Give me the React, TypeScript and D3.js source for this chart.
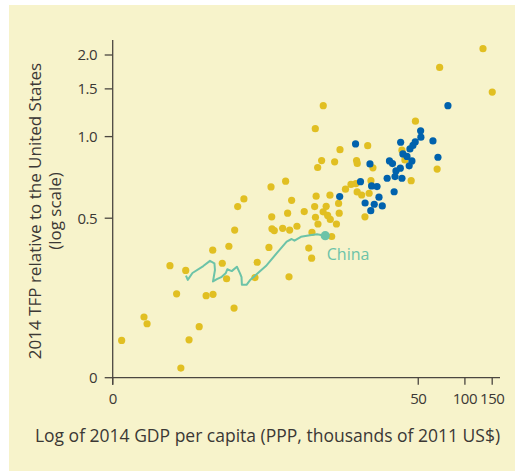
import React from "react";
import * as d3 from "d3";

// GDP per capita (thousands of 2011 US$, PPP) and TFP relative to the US
const yellowGdp = [
  0.61, 0.85, 0.89, 1.47, 1.66, 1.93, 1.38, 1.25, 1.58, 2.14, 2.37, 3.24, 2.72, 2.9, 2.36, 3.0,
  3.27, 3.42, 3.75, 4.42, 4.57, 5.44, 5.61, 6.97, 7.62, 7.18, 5.67, 5.69, 5.89, 6.67, 7.4, 8.25,
  9.19, 10.73, 10.97, 10.86, 11.27, 10.31, 9.83, 10.26, 7.33, 11.22, 11.9, 15.63, 14.44, 20.0, 20.2,
  13.47, 12.73, 12.17, 13.01, 13.53, 15.45, 14.83, 15.31, 16.96, 18.4, 19.81, 20.17, 21.57, 24.1,
  24.76, 13.82, 12.19, 10.83, 23.6, 25.5, 39.25, 41.0, 66.2, 45.0, 22.65, 47.96, 68.7, 130.8, 150.1,
];
const yellowTfp = [
  0.177, 0.216, 0.204, 0.14, 0.178, 0.199, 0.263, 0.334, 0.321, 0.259, 0.262, 0.233, 0.341, 0.299,
  0.381, 0.394, 0.452, 0.552, 0.589, 0.302, 0.344, 0.39, 0.652, 0.685, 0.582, 0.522, 0.506, 0.457,
  0.45, 0.459, 0.452, 0.467, 0.529, 0.552, 0.603, 0.504, 0.476, 0.443, 0.388, 0.356, 0.304, 0.769,
  0.816, 0.895, 0.807, 0.816, 0.796, 0.608, 0.553, 0.528, 0.512, 0.495, 0.522, 0.476, 0.567, 0.64,
  0.666, 0.671, 0.625, 0.609, 0.618, 0.688, 0.428, 1.3, 1.07, 0.926, 0.767, 0.891, 0.82, 0.759,
  0.688, 0.506, 1.14, 1.8, 2.11, 1.46,
];
const blueGdp = [
  77.7, 51.8, 52.0, 47.8, 46.2, 44.2, 62.2, 38.5, 19.7, 24.4, 32.6, 34.1, 39.8, 42.3, 45.5, 43.7,
  67.0, 38.3, 35.9, 35.4, 39.25, 31.5, 21.2, 25.0, 27.1, 34.95, 15.56, 27.9, 22.7, 26.0, 29.3, 24.7,
];
const blueTfp = [
  1.3, 1.05, 0.995, 0.956, 0.928, 0.901, 0.964, 0.953, 0.94, 0.793, 0.813, 0.795, 0.863, 0.845,
  0.813, 0.78, 0.839, 0.765, 0.747, 0.712, 0.702, 0.702, 0.682, 0.658, 0.654, 0.626, 0.601, 0.598,
  0.569, 0.563, 0.555, 0.533,
];
const chinaGdp = [
  1.586, 1.629, 1.746, 2.051, 2.265, 2.42, 2.44, 2.37, 2.51, 2.7, 2.87, 2.93, 3.13, 3.38, 3.54, 3.62,
  3.64, 3.9, 4.1, 4.49, 5.2, 6.17, 7.08, 7.62, 7.95, 8.75, 10.0, 11.1, 12.56,
];
const chinaTfp = [
  0.307, 0.296, 0.314, 0.333, 0.348, 0.341, 0.322, 0.292, 0.298, 0.304, 0.314, 0.324, 0.319, 0.331,
  0.313, 0.303, 0.284, 0.284, 0.295, 0.309, 0.333, 0.374, 0.41, 0.419, 0.413, 0.427, 0.433, 0.436,
  0.431,
];

// the "0" ticks sit at the bottom of each log axis
const xTickValues = [0.534, 50, 100, 150];
const xTickLabels = ["0", "50", "100", "150"];
const yTickValues = [0.129, 0.5, 1, 1.5, 2];
const yTickLabels = ["0", "0.5", "1.0", "1.5", "2.0"];

const W = 515;
const H = 471;
const font = "'Open Sans', sans-serif";
const textColor = "#3b3835";
const axisColor = "#4b4640";
const yellow = "#e1bf22";
const blue = "#0062ad";
const teal = "#6cc3a8";

const x = d3.scaleLog().domain([0.534, 150]).range([112.7, 492.2]);
const y = d3.scaleLog().domain([0.129, 2]).range([377.7, 55]);

const App = () => {
  const line = d3
    .line<number>()
    .x((d, i) => x(chinaGdp[i]))
    .y((d, i) => y(chinaTfp[i]));

  const last = chinaGdp.length - 1;
  const x0 = x(xTickValues[0]);
  const y0 = y(yTickValues[0]);

  return (
    <svg width={W} height={H} style={{ position: "absolute", left: 0, top: 0 }} fontFamily={font}>
      <rect x={9} y={5} width={W - 9} height={H - 5} fill="#f7f3cb" />

      {/* axes */}
      <g stroke={axisColor} strokeWidth={1.3} fill="none">
        <line x1={x0} x2={x0} y1={40} y2={y0 + 7} />
        <line x1={x0} x2={500} y1={y0} y2={y0} />
        {yTickValues.map((v, i) => (
          <line key={"yt" + i} x1={x0 - 8} x2={x0} y1={y(v)} y2={y(v)} />
        ))}
        {xTickValues.map((v, i) => (
          <line key={"xt" + i} x1={x(v)} x2={x(v)} y1={y0} y2={y0 + 7} />
        ))}
      </g>

      <g fontSize={15} fill={textColor} letterSpacing={-0.5}>
        {yTickValues.map((v, i) => (
          <text key={"yl" + i} x={97} y={y(v)} dy="0.36em" textAnchor="end">
            {yTickLabels[i]}
          </text>
        ))}
        {xTickValues.map((v, i) => (
          <text key={"xl" + i} x={x(v)} y={404} textAnchor="middle">
            {xTickLabels[i]}
          </text>
        ))}
      </g>

      <text x={267.5} y={442} textAnchor="middle" fontSize={17.5} fill={textColor}>
        Log of 2014 GDP per capita (PPP, thousands of 2011 US$)
      </text>
      <g transform="translate(0,211) rotate(-90)" fontSize={17} fill={textColor} textAnchor="middle">
        <text x={0} y={41}>2014 TFP relative to the United States</text>
        <text x={0} y={61}>(log scale)</text>
      </g>

      {/* points */}
      {yellowGdp.map((g, i) => (
        <circle key={"y" + i} cx={x(g)} cy={y(yellowTfp[i])} r={3.6} fill={yellow} />
      ))}
      {blueGdp.map((g, i) => (
        <circle key={"b" + i} cx={x(g)} cy={y(blueTfp[i])} r={3.6} fill={blue} />
      ))}

      {/* China path */}
      <path d={line(chinaGdp) || ""} fill="none" stroke={teal} strokeWidth={2} strokeLinejoin="round" />
      <circle cx={x(chinaGdp[last])} cy={y(chinaTfp[last])} r={4.6} fill={teal} />
      <text x={x(chinaGdp[last]) + 1.5} y={260} fontSize={16} fill={teal}>
        China
      </text>
    </svg>
  );
};

export default App;
